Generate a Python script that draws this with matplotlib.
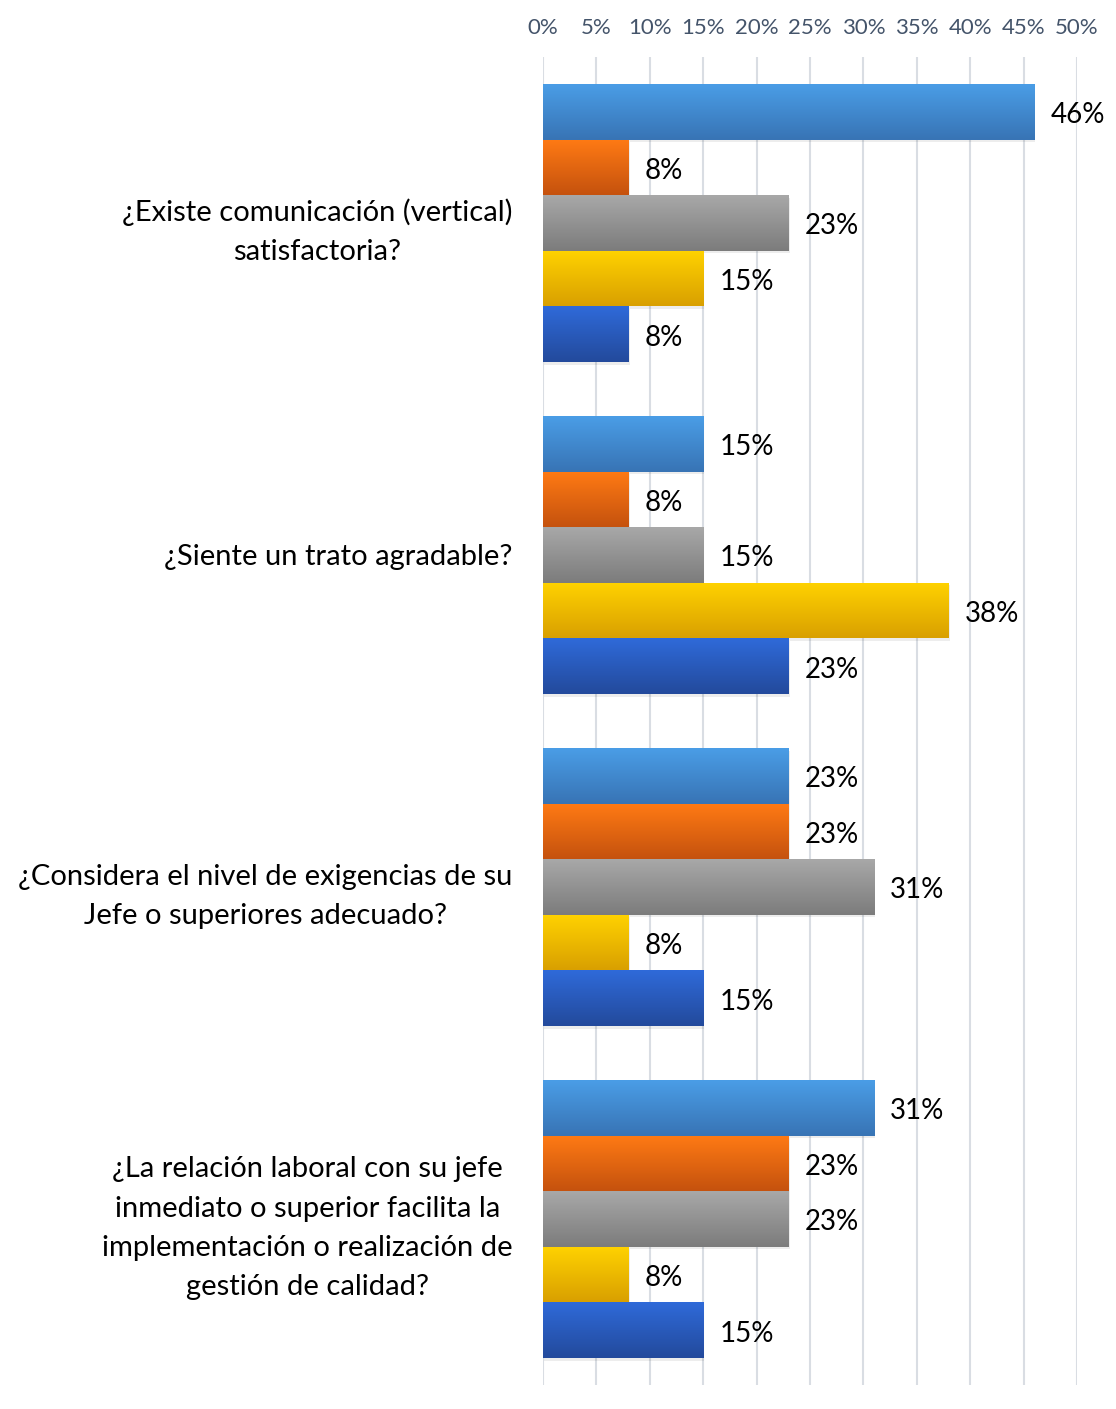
import numpy as np
import matplotlib
matplotlib.use("Agg")
import matplotlib.pyplot as plt
from matplotlib.colors import LinearSegmentedColormap

plt.rcParams['font.family'] = ['Lato', 'DejaVu Sans']

preguntas = [
    "¿Existe comunicación (vertical)\nsatisfactoria?",
    "¿Siente un trato agradable?",
    "¿Considera el nivel de exigencias de su\nJefe o superiores adecuado?",
    "¿La relación laboral con su jefe\ninmediato o superior facilita la\nimplementación o realización de\ngestión de calidad?",
]

# porcentajes por serie (una por color)
serie1 = [46, 15, 23, 31]
serie2 = [8, 8, 23, 23]
serie3 = [23, 15, 31, 23]
serie4 = [15, 38, 8, 8]
serie5 = [8, 23, 15, 15]
series = [serie1, serie2, serie3, serie4, serie5]

# colores degradados (arriba, abajo)
colores = [
    ("#4A9DE6", "#3874B5"),
    ("#FF7A14", "#C5520E"),
    ("#A8A8A8", "#7C7C7C"),
    ("#FFD200", "#D9A000"),
    ("#2F6AD9", "#234A9C"),
]

ticks = np.arange(0, 51, 5)

W, H = 1116, 1409
fig = plt.figure(figsize=(W / 100, H / 100), dpi=100)
ax = fig.add_axes([543 / W, 1 - 1385 / H, (1077 - 543) / W, (1385 - 57) / H])

n = len(series)
alto = 0.1675
y = np.arange(len(preguntas))

for k, (vals, (c_top, c_bot)) in enumerate(zip(series, colores)):
    pos = y - alto * n / 2 + alto * (k + 0.5)
    barras = ax.barh(pos, vals, height=alto, color=c_bot, zorder=2)
    cmap = LinearSegmentedColormap.from_list("g%d" % k, [c_top, c_bot])
    grad = np.linspace(0, 1, 64).reshape(-1, 1)
    for b, v in zip(barras, vals):
        x0, y0 = b.get_x(), b.get_y()
        # sombra
        ax.barh(b.get_y() + alto / 2 + 0.008, v, left=0.1, height=alto,
                color="#000000", alpha=0.07, zorder=1.5)
        im = ax.imshow(grad, cmap=cmap, aspect="auto", zorder=2.5,
                       extent=[x0, x0 + b.get_width(), y0 + b.get_height(), y0])
        im.set_clip_path(b)
        ax.text(v + 1.5, y0 + alto / 2 + 0.01, f"{v}%", va="center", ha="left",
                fontsize=20, color="#000000", zorder=3)

ax.set_xlim(0, 50)
ax.set_ylim(len(preguntas) - 0.5, -0.5)
ax.set_xticks(ticks)
ax.set_xticklabels([f"{t}%" for t in ticks])
ax.xaxis.tick_top()
ax.tick_params(axis="x", length=0, pad=14, labelsize=16, labelcolor="#44546A")
ax.set_yticks(y)
ax.set_yticklabels(preguntas, fontsize=21, multialignment="center",
                   linespacing=1.62)
ax.tick_params(axis="y", length=0, pad=22)
ax.grid(axis="x", color="#D9DDE3", linewidth=1.5, zorder=0)
ax.set_axisbelow(True)
for s in ax.spines.values():
    s.set_visible(False)

fig.savefig("out.png", dpi=100, facecolor="white")
